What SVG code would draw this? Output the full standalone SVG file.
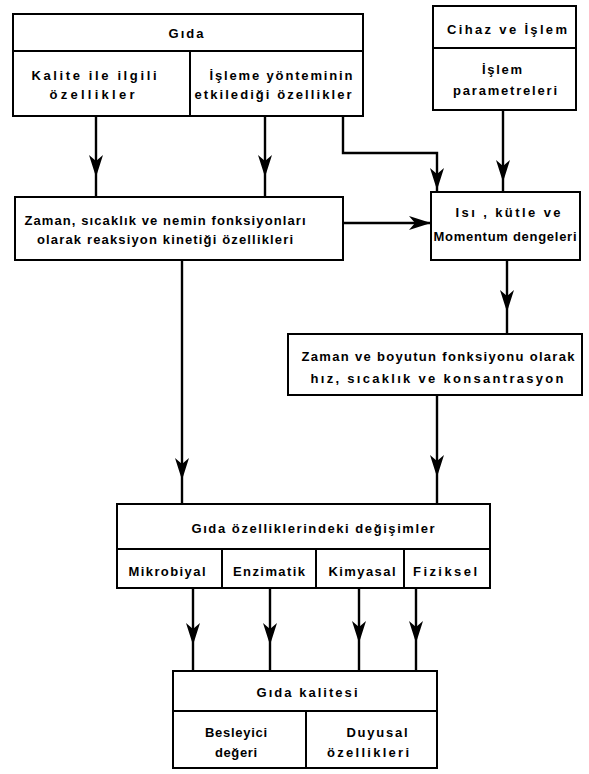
<svg xmlns="http://www.w3.org/2000/svg" xmlns:xlink="http://www.w3.org/1999/xlink" width="589" height="774" viewBox="0 0 589 774">
<style>
.box{fill:#fff;stroke:#000;stroke-width:2}
.div{stroke:#000;stroke-width:2;fill:none}
.ln{stroke:#000;stroke-width:2.4;fill:none}
text{font-family:"Liberation Sans",Arial,sans-serif;font-size:13px;font-weight:bold;fill:#000;text-anchor:middle}
</style>
<defs>
<path id="ah" d="M0,0 L-7,-22 L0,-16 L7,-22 Z" fill="#000"/>
</defs>
<rect width="589" height="774" fill="#fff"/>

<g id="connectors">
<path class="ln" d="M96,116 V197"/>
<use xlink:href="#ah" x="96" y="177"/>
<path class="ln" d="M265,116 V197"/>
<use xlink:href="#ah" x="265" y="177"/>
<path class="ln" d="M343,116 V153 H437 V192"/>
<use xlink:href="#ah" x="437" y="190"/>
<path class="ln" d="M503,110 V192"/>
<use xlink:href="#ah" x="503" y="182"/>
<path class="ln" d="M343,223 H431"/>
<use xlink:href="#ah" transform="translate(431,223) rotate(-90)"/>
<path class="ln" d="M182,260 V504"/>
<use xlink:href="#ah" x="182" y="480"/>
<path class="ln" d="M507,260 V334"/>
<use xlink:href="#ah" x="507" y="312"/>
<path class="ln" d="M437,395 V504"/>
<use xlink:href="#ah" x="437" y="477"/>
<path class="ln" d="M193,588 V671"/>
<use xlink:href="#ah" x="193" y="645"/>
<path class="ln" d="M270,588 V671"/>
<use xlink:href="#ah" x="270" y="645"/>
<path class="ln" d="M359,588 V671"/>
<use xlink:href="#ah" x="359" y="643"/>
<path class="ln" d="M416,588 V671"/>
<use xlink:href="#ah" x="416" y="643"/>
</g>

<g id="gida">
<rect class="box" x="13" y="14" width="350" height="102"/>
<path class="div" d="M13,51 H363 M190,51 V116"/>
<text x="186" y="38" textLength="35" lengthAdjust="spacing">Gıda</text>
<text x="94" y="80" textLength="125" lengthAdjust="spacing">Kalite ile ilgili</text>
<text x="92" y="99" textLength="85" lengthAdjust="spacing">özellikler</text>
<text x="281" y="80" textLength="143" lengthAdjust="spacing">İşleme yönteminin</text>
<text x="273" y="99" textLength="157" lengthAdjust="spacing">etkilediği özellikler</text>
</g>

<g id="cihaz">
<rect class="box" x="433" y="6" width="143" height="104"/>
<path class="div" d="M433,48 H576"/>
<text x="507" y="34" textLength="120" lengthAdjust="spacing">Cihaz ve İşlem</text>
<text x="502" y="74" textLength="40" lengthAdjust="spacing">İşlem</text>
<text x="505" y="95" textLength="104" lengthAdjust="spacing">parametreleri</text>
</g>

<g id="kinetik">
<rect class="box" x="15" y="197" width="328" height="63"/>
<text x="165" y="225" textLength="281" lengthAdjust="spacing">Zaman, sıcaklık ve nemin fonksiyonları</text>
<text x="165" y="244" textLength="256" lengthAdjust="spacing">olarak reaksiyon kinetiği özellikleri</text>
</g>

<g id="denge">
<rect class="box" x="431" y="192" width="149" height="68"/>
<text x="508" y="217" textLength="105" lengthAdjust="spacing">Isı , kütle ve</text>
<text x="505" y="241" textLength="143" lengthAdjust="spacing">Momentum dengeleri</text>
</g>

<g id="hiz">
<rect class="box" x="288" y="334" width="294" height="61"/>
<text x="438" y="361" textLength="273" lengthAdjust="spacing">Zaman ve boyutun fonksiyonu olarak</text>
<text x="437" y="383" textLength="253" lengthAdjust="spacing">hız, sıcaklık ve konsantrasyon</text>
</g>

<g id="degisim">
<rect class="box" x="117" y="504" width="373" height="84"/>
<path class="div" d="M117,549 H490 M222,549 V588 M316,549 V588 M404,549 V588"/>
<text x="313" y="533" textLength="243" lengthAdjust="spacing">Gıda özelliklerindeki değişimler</text>
<text x="167" y="576" textLength="77" lengthAdjust="spacing">Mikrobiyal</text>
<text x="269" y="576" textLength="72" lengthAdjust="spacing">Enzimatik</text>
<text x="362" y="576" textLength="67" lengthAdjust="spacing">Kimyasal</text>
<text x="445" y="576" textLength="64" lengthAdjust="spacing">Fiziksel</text>
</g>

<g id="kalite">
<rect class="box" x="173" y="671" width="264" height="97"/>
<path class="div" d="M173,711 H437 M306,711 V768"/>
<text x="307" y="697" textLength="101" lengthAdjust="spacing">Gıda kalitesi</text>
<text x="236" y="737" textLength="62" lengthAdjust="spacing">Besleyici</text>
<text x="236" y="757" textLength="42" lengthAdjust="spacing">değeri</text>
<text x="377" y="737" textLength="61" lengthAdjust="spacing">Duyusal</text>
<text x="368" y="757" textLength="82" lengthAdjust="spacing">özellikleri</text>
</g>
</svg>
